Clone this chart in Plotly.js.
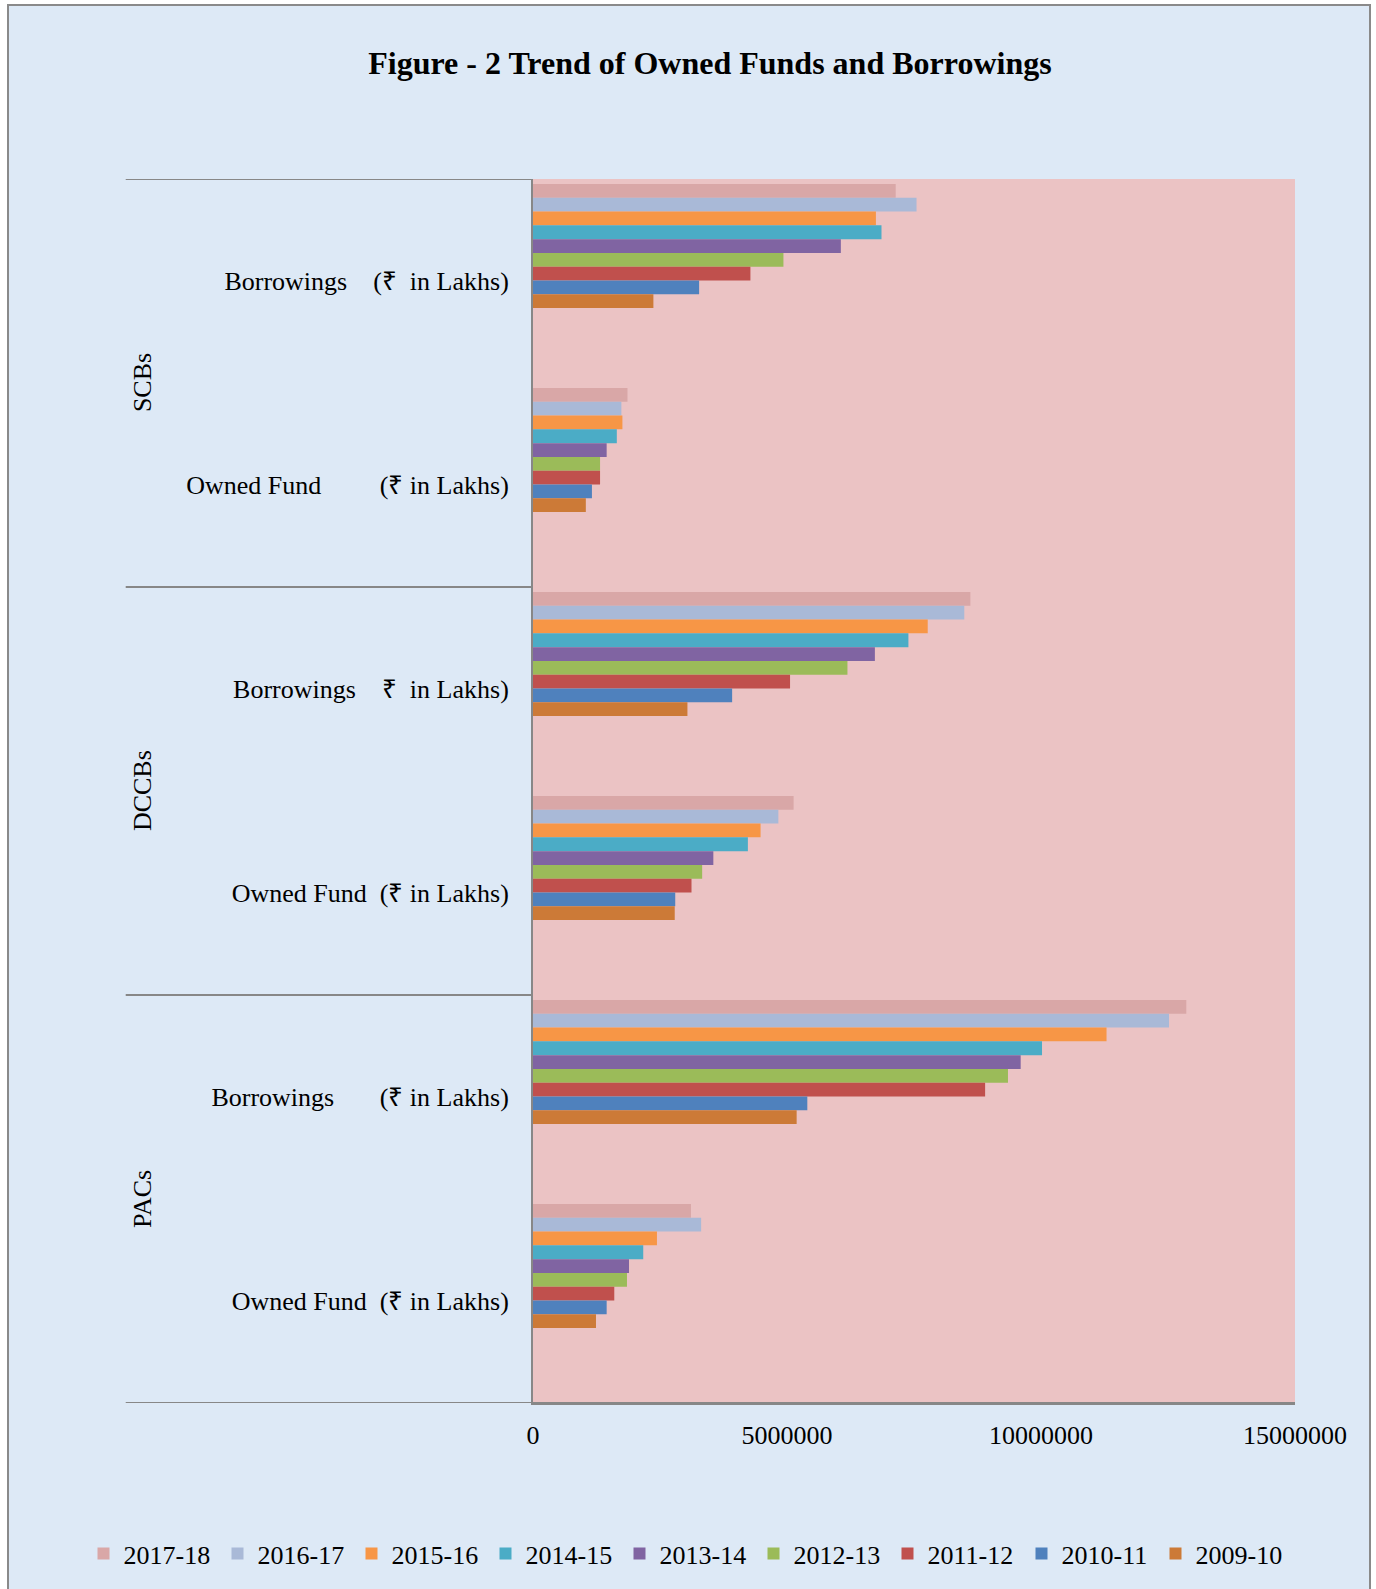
<!DOCTYPE html>
<html>
<head>
<meta charset="utf-8">
<script src="https://cdn.plot.ly/plotly-3.0.1.min.js"></script>
<style>
html,body{margin:0;padding:0;background:#ffffff;}
#frame{position:absolute;left:7px;top:4px;width:1360px;height:1590px;border:2px solid #8a8a8a;border-bottom:none;background:#dde9f6;}
#chart{width:1360px;height:1583px;}
</style>
</head>
<body>
<div id="frame"><div id="chart"></div></div>
<script>
// Category tick labels (top to bottom)
const categoryLabels = [
  'Borrowings\u00a0\u00a0\u00a0\u00a0(₹\u00a0\u00a0in Lakhs)',
  'Owned Fund\u00a0\u00a0\u00a0\u00a0\u00a0\u00a0\u00a0\u00a0\u00a0(₹ in Lakhs)',
  'Borrowings\u00a0\u00a0\u00a0\u00a0₹\u00a0\u00a0in Lakhs)',
  'Owned Fund\u00a0\u00a0(₹ in Lakhs)',
  'Borrowings\u00a0\u00a0\u00a0\u00a0\u00a0\u00a0\u00a0(₹ in Lakhs)',
  'Owned Fund\u00a0\u00a0(₹ in Lakhs)'
];
const groupLabels = ['SCBs', 'DCCBs', 'PACs'];
const years = ['2017-18','2016-17','2015-16','2014-15','2013-14','2012-13','2011-12','2010-11','2009-10'];

// Values (₹ in Lakhs), order: SCBs Borr, SCBs Owned, DCCBs Borr, DCCBs Owned, PACs Borr, PACs Owned
const v2017_18 = [7140000, 1860000, 8610000, 5130000, 12860000, 3110000];
const v2016_17 = [7550000, 1740000, 8490000, 4830000, 12520000, 3310000];
const v2015_16 = [6750000, 1760000, 7770000, 4480000, 11290000, 2440000];
const v2014_15 = [6860000, 1650000, 7390000, 4230000, 10020000, 2170000];
const v2013_14 = [6060000, 1450000, 6730000, 3550000, 9600000, 1890000];
const v2012_13 = [4930000, 1320000, 6190000, 3330000, 9350000, 1850000];
const v2011_12 = [4280000, 1320000, 5060000, 3120000, 8900000, 1600000];
const v2010_11 = [3270000, 1160000, 3920000, 2800000, 5400000, 1450000];
const v2009_10 = [2370000, 1040000, 3040000, 2790000, 5190000, 1240000];

const xTicks = [0, 5000000, 10000000, 15000000];

const seriesValues = [v2017_18, v2016_17, v2015_16, v2014_15, v2013_14, v2012_13, v2011_12, v2010_11, v2009_10];
const seriesColors = ['#d9a7a7','#a9b9d7','#f79646','#4bacc6','#8064a2','#9bbb59','#c0504d','#4f81bd','#cc7a37'];

const positions = categoryLabels.map((_, i) => i);
const barW = 0.0676;
const topPad = 0.0245;

const traces = years.map((yr, i) => ({
  type: 'bar',
  orientation: 'h',
  name: yr,
  x: seriesValues[i],
  y: positions,
  width: barW,
  offset: -0.5 + topPad + i * barW,
  marker: {color: seriesColors[i], line: {width: 0}},
  hoverinfo: 'x+name'
}));

const font = 'Liberation Serif, Times New Roman, serif';
const lineCol = '#878787';
const labelX = -0.5345;

const shapes = [];
[-0.5, 1.5, 3.5].forEach(yv => shapes.push({
  type: 'line', xref: 'paper', yref: 'y', x0: labelX, x1: 0, y0: yv, y1: yv,
  line: {color: lineCol, width: 2}
}));
shapes.push({type: 'line', xref: 'paper', yref: 'y', x0: labelX, x1: 1, y0: 5.5, y1: 5.5,
  line: {color: lineCol, width: 2}});

const annotations = groupLabels.map((g, i) => ({
  text: g, xref: 'paper', yref: 'y', x: -0.513, y: 0.5 + 2 * i,
  textangle: -90, showarrow: false, xanchor: 'center', yanchor: 'middle',
  font: {family: font, size: 26, color: '#000'}
}));

const layout = {
  width: 1360, height: 1583,
  paper_bgcolor: 'rgba(0,0,0,0)',
  plot_bgcolor: '#ebc3c4',
  margin: {l: 524, r: 74, t: 173, b: 186, pad: 0},
  barmode: 'group',
  title: {
    text: 'Figure - 2 Trend of Owned Funds and Borrowings',
    font: {family: font, size: 32, color: '#000', weight: 'bold'},
    x: 0.5154, xanchor: 'center', xref: 'container',
    y: 0.964, yanchor: 'middle', yref: 'container'
  },
  xaxis: {
    range: [0, 15000000], tickvals: xTicks, tickformat: 'd',
    showgrid: false, zeroline: false, showline: true, linecolor: lineCol, linewidth: 2,
    ticks: 'outside', ticklen: 8, tickcolor: 'rgba(0,0,0,0)',
    tickfont: {family: font, size: 26, color: '#000'}
  },
  yaxis: {
    range: [5.5, -0.5], tickvals: positions, ticktext: categoryLabels,
    showgrid: false, zeroline: false, showline: true, linecolor: lineCol, linewidth: 2,
    ticks: 'outside', ticklen: 17, tickcolor: 'rgba(0,0,0,0)',
    tickfont: {family: font, size: 26, color: '#000'}
  },
  showlegend: true,
  legend: {
    orientation: 'h', xref: 'paper', yref: 'paper',
    x: -0.5899, xanchor: 'left', y: -0.1231, yanchor: 'middle',
    entrywidth: 89, entrywidthmode: 'pixels',
    font: {family: font, size: 26, color: '#000'},
    bgcolor: 'rgba(0,0,0,0)', itemclick: false, itemdoubleclick: false
  },
  shapes: shapes,
  annotations: annotations
};

Plotly.newPlot('chart', traces, layout, {displayModeBar: false, staticPlot: true});
</script>
</body>
</html>
